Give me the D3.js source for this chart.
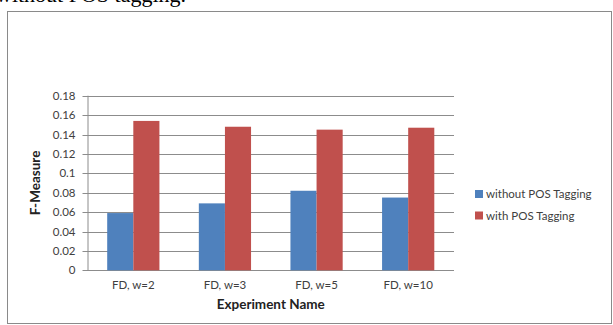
<!DOCTYPE html>
<html>
<head>
<meta charset="utf-8">
<script src="https://cdn.jsdelivr.net/npm/d3@7"></script>
<style>
  html, body { margin: 0; padding: 0; background: #fff; }
  svg { display: block; }
</style>
</head>
<body>
<svg id="chart" width="613" height="325"></svg>
<script>
// Experiment settings and F-Measure scores
const categories = ["FD, w=2", "FD, w=3", "FD, w=5", "FD, w=10"];
const seriesNames = ["without POS Tagging", "with POS Tagging"];
const withoutPOS = [0.059, 0.069, 0.082, 0.075];
const withPOS = [0.154, 0.148, 0.145, 0.147];
const yTicks = [0, 0.02, 0.04, 0.06, 0.08, 0.1, 0.12, 0.14, 0.16, 0.18];
const colors = ["#4F81BD", "#C0504D"];

const series = [withoutPOS, withPOS];
const svg = d3.select("#chart");
const font = "Lato, 'Open Sans', sans-serif";

// caption line of the surrounding text, running off the page top
svg.append("text")
  .attr("x", -4).attr("y", 2)
  .attr("font-family", "'Liberation Serif', 'Times New Roman', serif")
  .attr("font-size", 22)
  .attr("fill", "#000")
  .text("without POS tagging.");

// chart frame
svg.append("rect")
  .attr("x", 7.5).attr("y", 11.5)
  .attr("width", 604).attr("height", 312)
  .attr("fill", "#fff")
  .attr("stroke", "#8a8a8a")
  .attr("stroke-width", 1);

const plot = { left: 87.5, right: 454, top: 95.7, bottom: 270.3 };

const x0 = d3.scaleBand()
  .domain(categories)
  .range([plot.left, plot.right])
  .paddingInner(0.43)
  .paddingOuter(0.215);

const x1 = d3.scaleBand()
  .domain(d3.range(series.length))
  .range([0, x0.bandwidth()]);

const y = d3.scaleLinear()
  .domain([0, 0.18])
  .range([plot.bottom, plot.top]);

// horizontal gridlines
svg.append("g")
  .selectAll("line")
  .data(yTicks)
  .join("line")
  .attr("x1", plot.left - 5)
  .attr("x2", plot.right)
  .attr("y1", d => Math.round(y(d)) + 0.5)
  .attr("y2", d => Math.round(y(d)) + 0.5)
  .attr("stroke", "#8c8c8c")
  .attr("stroke-width", 1);

// y axis labels
const yAxis = d3.axisLeft(y)
  .tickValues(yTicks)
  .tickFormat(d => d === 0 ? "0" : String(+d.toFixed(2)))
  .tickSize(0)
  .tickPadding(0);

const yg = svg.append("g")
  .attr("transform", `translate(${plot.left - 12},0)`)
  .call(yAxis);
yg.select(".domain").remove();
yg.selectAll("text")
  .attr("font-family", font)
  .attr("font-size", 11.5)
  .attr("fill", "#404040");

// vertical axis line
svg.append("line")
  .attr("x1", plot.left + 0.5).attr("x2", plot.left + 0.5)
  .attr("y1", plot.top).attr("y2", plot.bottom)
  .attr("stroke", "#8c8c8c");

// bars
const groups = svg.append("g")
  .selectAll("g")
  .data(categories)
  .join("g")
  .attr("transform", d => `translate(${x0(d)},0)`);

groups.selectAll("rect")
  .data((d, i) => series.map((s, k) => ({ k, v: s[i] })))
  .join("rect")
  .attr("x", d => x1(d.k))
  .attr("width", x1.bandwidth())
  .attr("y", d => y(d.v))
  .attr("height", d => y(0) - y(d.v))
  .attr("fill", d => colors[d.k]);

// x axis labels
const xAxis = d3.axisBottom(x0).tickSize(0).tickPadding(0);
const xg = svg.append("g")
  .attr("transform", `translate(0,${plot.bottom + 11})`)
  .call(xAxis);
xg.select(".domain").remove();
xg.selectAll("text")
  .attr("font-family", font)
  .attr("font-size", 11.5)
  .attr("fill", "#404040");

// axis titles
svg.append("text")
  .attr("x", (plot.left + plot.right) / 2)
  .attr("y", 309)
  .attr("text-anchor", "middle")
  .attr("font-family", font)
  .attr("font-weight", "bold")
  .attr("font-size", 13.5)
  .attr("fill", "#222")
  .text("Experiment Name");

svg.append("text")
  .attr("transform", `translate(40,${(plot.top + plot.bottom) / 2}) rotate(-90)`)
  .attr("text-anchor", "middle")
  .attr("font-family", font)
  .attr("font-weight", "bold")
  .attr("font-size", 13.5)
  .attr("fill", "#222")
  .text("F-Measure");

// legend
const legend = svg.append("g")
  .attr("transform", "translate(475,190)");
const items = legend.selectAll("g")
  .data(seriesNames)
  .join("g")
  .attr("transform", (d, i) => `translate(0,${i * 21.5})`);
items.append("rect")
  .attr("width", 8).attr("height", 8)
  .attr("fill", (d, i) => colors[i]);
items.append("text")
  .attr("x", 11).attr("y", 8)
  .attr("font-family", font)
  .attr("font-size", 11.5)
  .attr("fill", "#404040")
  .text(d => d);
</script>
</body>
</html>
